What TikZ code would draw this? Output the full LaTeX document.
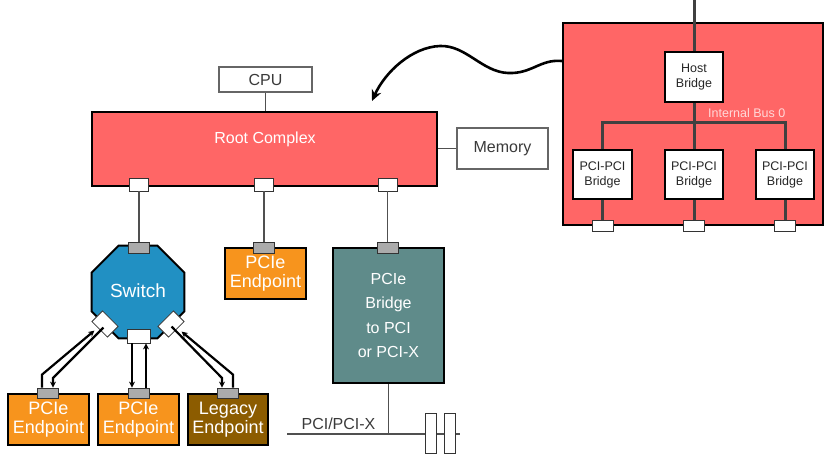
\documentclass[tikz,border=0pt]{standalone}
\usepackage{fontspec}
\setmainfont{Liberation Sans}
\usetikzlibrary{shapes.geometric,arrows.meta}
\definecolor{rcred}{HTML}{FF6666}
\definecolor{eporange}{HTML}{F7941D}
\definecolor{epbrown}{HTML}{8C5C00}
\definecolor{swblue}{HTML}{2190C3}
\definecolor{brteal}{HTML}{5F8B8A}
\definecolor{portgray}{HTML}{ABABAB}
\definecolor{wiregray}{HTML}{505050}
\definecolor{textgray}{HTML}{3A3A3A}
\definecolor{buslabel}{HTML}{FFD8D8}
\begin{document}
\begin{tikzpicture}[x=1pt,y=-1pt,
  box/.style={draw=black,line width=2.4pt,inner sep=0pt},
  plainbox/.style={draw=gray!80!black,line width=1.1pt,fill=white,inner sep=0pt,
    text=textgray,font=\fontsize{16}{18}\selectfont},
  wport/.style={draw=black!80,line width=0.8pt,fill=white,inner sep=0pt,
    minimum width=19pt,minimum height=13pt},
  hport/.style={draw=black!80,line width=0.8pt,fill=white,inner sep=0pt,
    minimum width=21pt,minimum height=11pt},
  gport/.style={draw=black!80,line width=0.8pt,fill=portgray,inner sep=0pt,
    minimum width=21pt,minimum height=11pt},
  epbox/.style={box,fill=eporange,text=white,align=center,
    font=\fontsize{18}{19}\selectfont,minimum width=81pt,minimum height=51pt},
  bridgebox/.style={draw=black,line width=2pt,fill=white,inner sep=0pt,align=center,
    text=black!85,font=\fontsize{12.5}{15}\selectfont,minimum height=49pt},
  conn/.style={draw=wiregray,line width=1.8pt},
  hline/.style={draw=black!75,line width=3pt},
  flow/.style={draw=black,line width=2.2pt,-{Stealth[length=6pt,width=6pt]}}]
\useasboundingbox (0,0) rectangle (830,461);

% ---------- host complex (right) ----------
\node[box,fill=rcred,minimum width=260pt,minimum height=202pt] (hc) at (693,124) {};
\coordinate (hctop) at (694,0);
\node[bridgebox,minimum width=58pt,minimum height=50pt] (hb) at (694,77) {Host\\Bridge};
\node[bridgebox,minimum width=59pt] (b1) at (602.5,174.5) {PCI-PCI\\Bridge};
\node[bridgebox,minimum width=58pt] (b2) at (694,174.5) {PCI-PCI\\Bridge};
\node[bridgebox,minimum width=58pt] (b3) at (785,174.5) {PCI-PCI\\Bridge};
\node[hport] (hp1) at (602.5,225.5) {};
\node[hport] (hp2) at (694,225.5) {};
\node[hport] (hp3) at (785,225.5) {};
\draw[hline] (hctop) -- (hb.north);
\draw[hline] (hb.south) -- (b2.north);
\draw[hline] (b1.north) -- ++(0,-27) -| (b3.north);
\draw[hline] (b1.south) -- (hp1.north);
\draw[hline] (b2.south) -- (hp2.north);
\draw[hline] (b3.south) -- (hp3.north);
\node[anchor=west,text=buslabel,font=\fontsize{12.5}{14}\selectfont,inner sep=0pt]
  (busname) at (708,113) {Internal Bus 0};

% ---------- root complex ----------
\node[box,fill=rcred,minimum width=345pt,minimum height=74pt] (rc) at (264.5,149) {};
\node[text=white,font=\fontsize{16}{18}\selectfont,inner sep=0pt] (rcname) at (265,139) {Root Complex};
\node[plainbox,minimum width=93pt,minimum height=25pt] (cpu) at (265.5,79.5) {CPU};
\node[plainbox,minimum width=91pt,minimum height=41pt] (mem) at (502.5,148.5) {Memory};
\draw[conn] (cpu.south) -- (cpu.south |- rc.north);
\draw[conn] (rc.east |- mem.west) -- (mem.west);
\node[wport] (rp1) at (139,184.5) {};
\node[wport] (rp2) at (264,184.5) {};
\node[wport] (rp3) at (387.5,184.5) {};

% wavy link from the host complex to the root complex
\draw[line width=2.6pt,-{Stealth[length=11pt,width=10pt]}]
  (hc.west |- 0,61) .. controls (540,59) and (532,74) .. (508,73)
  .. controls (482,72) and (466,45) .. (440,46)
  .. controls (412,47) and (385,72) .. (372,101);

% ---------- switch ----------
\node[regular polygon,regular polygon sides=8,minimum size=100.6pt,inner sep=0pt,
  draw=black,line width=2pt,fill=swblue,text=white,
  font=\fontsize{19}{21}\selectfont] (sw) at (138,292) {\raisebox{3pt}{Switch}};
\node[gport] (swtop) at (139,247.5) {};
\node[hport,minimum width=23pt,minimum height=14pt] (swbot) at (138.5,336) {};
\node[hport,minimum width=22pt,minimum height=15pt,rotate=-45] (swl) at (105,324) {};
\node[hport,minimum width=22pt,minimum height=15pt,rotate=45] (swr) at (171,324) {};
\draw[conn] (rp1.south) -- (swtop.north);

% ---------- endpoint under the root complex ----------
\node[epbox] (ep0) at (265.5,273.5) {PCIe\\Endpoint};
\node[gport] (ep0p) at (264,247.5) {};
\draw[conn] (rp2.south) -- (ep0p.north);

% ---------- PCIe to PCI bridge ----------
\node[box,fill=brteal,text=white,align=center,font=\fontsize{16}{24.5}\selectfont,
  minimum width=111pt,minimum height=135pt] (br) at (388.5,315.5)
  {\raisebox{-3pt}{\parbox{100pt}{\centering PCIe\\Bridge\\to PCI\\or PCI-X}}};
\node[gport] (brp) at (387.5,247.5) {};
\draw[conn] (rp3.south) -- (brp.north);
\coordinate (busL) at (287,434);
\coordinate (busR) at (460,434);
\draw[conn] (busL) -- (busR);
\draw[conn] (br.south) -- (br.south |- busL);
\node[draw=black!80,line width=0.9pt,fill=white,minimum width=11pt,minimum height=40pt,
  inner sep=0pt] (slot1) at (430.5,433) {};
\node[draw=black!80,line width=0.9pt,fill=white,minimum width=11pt,minimum height=40pt,
  inner sep=0pt] (slot2) at (449.5,433) {};
\node[text=textgray,font=\fontsize{16}{18}\selectfont,inner sep=0pt] (busname2) at (338.5,424) {PCI/PCI-X};

% ---------- endpoints below the switch ----------
\node[epbox] (ep1) at (48.5,419.5) {PCIe\\Endpoint};
\node[epbox] (ep2) at (138.5,419.5) {PCIe\\Endpoint};
\node[epbox,fill=epbrown,minimum width=80pt] (ep3) at (228,419.5) {Legacy\\Endpoint};
\node[gport,minimum height=10pt] (ep1p) at (47.5,393) {};
\node[gport,minimum height=10pt] (ep2p) at (139,393) {};
\node[gport,minimum height=10pt] (ep3p) at (227.5,393) {};

% links between the switch and its endpoints
\draw[flow] ([xshift=-5.5pt]ep1p.north) -- ++(0,-13) -- ([xshift=-5pt,yshift=-1pt]swl.south);
\draw[flow] ([xshift=4pt,yshift=2pt]swl.south) -- ([xshift=5.5pt]ep1p.north |- 0,378) -- ([xshift=5.5pt]ep1p.north);
\draw[flow] ([xshift=-6.5pt]swbot.south) -- ([xshift=-7pt]ep2p.north);
\draw[flow] ([xshift=7pt]ep2p.north) -- ([xshift=7.5pt]swbot.south);
\draw[flow] ([xshift=-5pt,yshift=3pt]swr.south) -- ([xshift=-5.5pt]ep3p.north |- 0,378) -- ([xshift=-5.5pt]ep3p.north);
\draw[flow] ([xshift=5.5pt]ep3p.north) -- ++(0,-13) -- ([xshift=5pt,yshift=-2pt]swr.south);
\end{tikzpicture}
\end{document}
